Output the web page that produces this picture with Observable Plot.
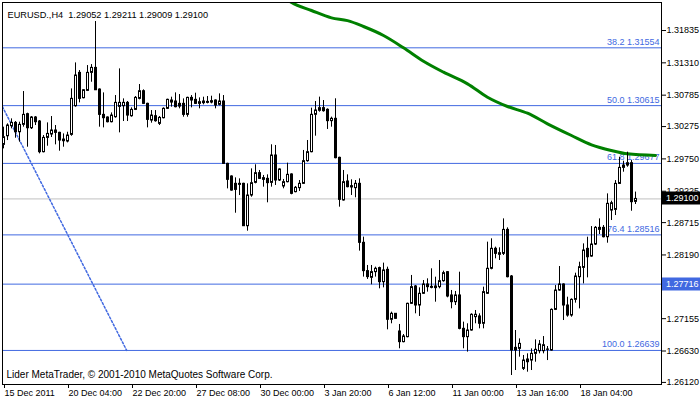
<!DOCTYPE html>
<html><head><meta charset="utf-8">
<script src="https://cdn.jsdelivr.net/npm/d3@7"></script>
<script src="https://cdn.jsdelivr.net/npm/@observablehq/plot@0.6"></script>
<style>
html,body{margin:0;padding:0;background:#fff;}
#chart svg{display:block;}
</style>
</head><body><div id="chart"></div>
<script>
const symbol = "EURUSD.,H4";
const copyright = "Lider MetaTrader, \u00a9 2001-2010 MetaQuotes Software Corp.";

const opens = [1.29978,1.30118,1.30281,1.30335,1.30183,1.30303,1.30476,1.30248,1.30422,1.30357,
1.29859,1.30091,1.30146,1.30211,1.30173,1.30064,1.30032,1.30140,1.30606,1.31147,
1.30736,1.30855,1.31147,1.31228,1.30876,1.30465,1.30422,1.30346,1.30427,1.30595,
1.30606,1.30660,1.30443,1.30546,1.30725,1.30849,1.30644,1.30373,1.30443,1.30319,
1.30411,1.30563,1.30698,1.30682,1.30644,1.30644,1.30465,1.30741,1.30709,1.30644,
1.30682,1.30676,1.30687,1.30698,1.30628,1.30682,1.29669,1.29464,1.29345,1.29328,
1.29345,1.28657,1.29155,1.29361,1.29518,1.29437,1.29426,1.29361,1.29805,1.29399,
1.29302,1.29372,1.29497,1.29210,1.29275,1.29345,1.29713,1.29859,1.30466,1.30531,
1.30574,1.30547,1.30363,1.30401,1.29767,1.29075,1.29383,1.29307,1.29275,1.29345,
1.28387,1.27927,1.27819,1.27911,1.27976,1.27748,1.27948,1.27137,1.27234,1.26947,
1.26774,1.26855,1.27396,1.27678,1.27369,1.27559,1.27710,1.27672,1.27651,1.27667,
1.27764,1.27910,1.27532,1.27423,1.27532,1.26990,1.26855,1.26963,1.27180,1.27191,
1.27072,1.27559,1.27965,1.28290,1.28192,1.28208,1.28597,1.27840,1.26681,1.26665,
1.26340,1.26492,1.26475,1.26584,1.26627,1.26627,1.26649,1.26638,1.27298,1.27612,
1.27710,1.27369,1.27206,1.27461,1.27829,1.27980,1.28289,1.28164,1.28359,1.28597,
1.28630,1.28478,1.28911,1.28922,1.29344,1.29604,1.29642,1.29680,1.29052];
const highs = [1.30265,1.30319,1.30400,1.30357,1.30346,1.30844,1.30492,1.30438,1.30438,1.30373,
1.30129,1.30335,1.30438,1.30292,1.30183,1.30156,1.30183,1.30887,1.31309,1.31185,
1.30876,1.31266,1.31282,1.31981,1.30887,1.30822,1.30432,1.30497,1.30779,1.31212,
1.30725,1.30682,1.30579,1.30763,1.30958,1.30871,1.30655,1.30535,1.30535,1.30438,
1.30579,1.30720,1.30752,1.30822,1.30795,1.30725,1.30752,1.30779,1.30817,1.30741,
1.30752,1.30763,1.30768,1.30709,1.30806,1.30779,1.29680,1.29475,1.29442,1.29426,
1.29355,1.29345,1.29588,1.29654,1.29562,1.29481,1.29491,1.29979,1.29968,1.29589,
1.29416,1.29681,1.29508,1.29302,1.29399,1.29887,1.30049,1.30574,1.30682,1.30753,
1.30698,1.30563,1.30428,1.30726,1.29778,1.29562,1.29491,1.29410,1.29399,1.29426,
1.28479,1.28019,1.28019,1.27992,1.27992,1.28057,1.27992,1.27261,1.27234,1.27061,
1.26898,1.27407,1.27857,1.27694,1.27656,1.27775,1.27802,1.27965,1.27829,1.28100,
1.27927,1.27921,1.27613,1.27597,1.27910,1.27099,1.27072,1.27234,1.27288,1.27234,
1.27667,1.28398,1.28452,1.28317,1.28306,1.28776,1.28630,1.27856,1.26963,1.26827,
1.26557,1.26584,1.26665,1.26811,1.26800,1.26865,1.26703,1.27314,1.27693,1.28002,
1.27720,1.27504,1.27477,1.27894,1.28072,1.28370,1.28478,1.28651,1.28651,1.28776,
1.28668,1.29182,1.29063,1.29398,1.29777,1.29712,1.29859,1.29723,1.29211];
const lows = [1.29913,1.30048,1.30238,1.30086,1.30021,1.30265,1.29940,1.30227,1.30292,1.29832,
1.29848,1.29956,1.30097,1.29978,1.29875,1.29940,1.30010,1.30118,1.30589,1.30660,
1.30725,1.30844,1.30995,1.30860,1.30265,1.30254,1.30335,1.30335,1.30411,1.30173,
1.30357,1.30357,1.30427,1.30535,1.30709,1.30633,1.30254,1.30330,1.30346,1.30292,
1.30400,1.30552,1.30590,1.30579,1.30563,1.30427,1.30427,1.30579,1.30633,1.30563,
1.30628,1.30644,1.30644,1.30563,1.30611,1.29659,1.29263,1.29226,1.28868,1.29155,
1.28652,1.28576,1.29128,1.29345,1.29416,1.29291,1.29037,1.29291,1.29318,1.29383,
1.29264,1.29361,1.29167,1.29199,1.29221,1.29334,1.29697,1.29849,1.30119,1.30509,
1.30509,1.30228,1.30265,1.29751,1.28966,1.29064,1.29280,1.29156,1.29118,1.28252,
1.27830,1.27792,1.27705,1.27830,1.27640,1.27656,1.26974,1.27072,1.27147,1.26666,
1.26763,1.26844,1.27386,1.27234,1.27191,1.27548,1.27586,1.27640,1.27423,1.27640,
1.27748,1.27494,1.27315,1.27369,1.26974,1.26666,1.26612,1.26952,1.27072,1.26990,
1.26990,1.27548,1.27948,1.28127,1.28100,1.28181,1.27818,1.26232,1.26313,1.26530,
1.26313,1.26286,1.26313,1.26448,1.26584,1.26584,1.26475,1.26627,1.27287,1.27601,
1.27125,1.27179,1.27179,1.27407,1.27314,1.27720,1.27818,1.28153,1.28343,1.28522,
1.28467,1.28381,1.28749,1.28830,1.29334,1.29534,1.29615,1.28900,1.29009];
const closes = [1.30102,1.30292,1.30335,1.30183,1.30303,1.30465,1.30248,1.30422,1.30346,1.29859,
1.30091,1.30156,1.30211,1.30173,1.30048,1.30037,1.30129,1.30725,1.31104,1.30725,
1.30865,1.31147,1.31228,1.30865,1.30465,1.30411,1.30346,1.30454,1.30660,1.30660,
1.30660,1.30454,1.30546,1.30741,1.30849,1.30644,1.30384,1.30454,1.30362,1.30416,
1.30563,1.30709,1.30665,1.30590,1.30600,1.30465,1.30741,1.30698,1.30644,1.30671,
1.30655,1.30660,1.30665,1.30617,1.30682,1.29669,1.29410,1.29236,1.29247,1.29345,
1.28657,1.29155,1.29355,1.29518,1.29426,1.29410,1.29356,1.29805,1.29399,1.29578,
1.29372,1.29491,1.29183,1.29280,1.29345,1.29713,1.29859,1.30466,1.30536,1.30574,
1.30525,1.30363,1.30401,1.29762,1.29085,1.29372,1.29291,1.29286,1.29345,1.28387,
1.27927,1.27830,1.27911,1.27965,1.27748,1.27938,1.27137,1.27234,1.27153,1.26774,
1.26866,1.27396,1.27667,1.27369,1.27559,1.27710,1.27667,1.27656,1.27678,1.27764,
1.27894,1.27515,1.27423,1.27532,1.26990,1.26855,1.26963,1.27218,1.27218,1.27072,
1.27586,1.27965,1.28290,1.28208,1.28219,1.28597,1.27829,1.26638,1.26638,1.26746,
1.26475,1.26448,1.26584,1.26649,1.26735,1.26724,1.26654,1.27298,1.27612,1.27710,
1.27369,1.27206,1.27461,1.27840,1.27991,1.28262,1.28153,1.28359,1.28630,1.28630,
1.28478,1.29020,1.29030,1.29344,1.29604,1.29642,1.29680,1.29047,1.29100];

// moving average (green), read at sample bars
const maBars   = [71, 72, 77, 82, 86, 90, 95, 100, 105, 110, 116, 121, 126, 131, 136, 142, 147, 152, 156, 163];
const maValues = [1.32330,1.32290,1.32160,1.32040,1.31995,1.31900,1.31754,1.31554,1.31336,1.31158,
                  1.30969,1.30752,1.30601,1.30492,1.30320,1.30130,1.29979,1.29886,1.29832,1.29805];

// Fibonacci levels
const fibLevels = ["38.2", "50.0", "61.8", "76.4", "100.0"];
const fibPrices = [1.31554, 1.30615, 1.29677, 1.28516, 1.26639];
const fibTrendBars = [-31.6, 30.8];
const fibTrendPrices = [1.34591, 1.26639];

const hLinePrice = 1.27716;

// axes
const xTickBars = [0, 16, 32, 48, 64, 80, 96, 112, 128, 144];
const xTickLabels = ["15 Dec 2011", "20 Dec 04:00", "22 Dec 20:00", "27 Dec 08:00", "30 Dec 00:00",
                     "3 Jan 20:00", "6 Jan 12:00", "11 Jan 00:00", "13 Jan 16:00", "18 Jan 04:00"];
const yTicks = [1.31835, 1.31310, 1.30785, 1.30275, 1.29750, 1.29225, 1.28715, 1.28190, 1.27665, 1.27155, 1.26630, 1.26120];

const blue = "#4169E1";
const font = "'Liberation Sans', Arial, sans-serif";
const candles = opens.map((o, i) => ({i, open: o, high: highs[i], low: lows[i], close: closes[i]}));
const last = candles[candles.length - 1];
const ma = maBars.map((b, k) => ({bar: b, value: maValues[k]}));
const fibs = fibLevels.map((l, k) => ({level: l, price: fibPrices[k]}));
const trend = fibTrendBars.map((b, k) => ({bar: b, price: fibTrendPrices[k]}));
const xLabel = new Map(xTickBars.map((b, k) => [b, xTickLabels[k]]));
const f5 = d3.format(".5f");
const title = `${symbol}\u00a0\u00a0${f5(last.open)} ${f5(last.high)} ${f5(last.low)} ${f5(last.close)}`;

const bodyLo = d => Math.min(d.open, d.close);
const bodyHi = d => Math.max(d.open, d.close);

const chart = Plot.plot({
  width: 700, height: 402,
  marginLeft: 2, marginRight: 39, marginTop: 2, marginBottom: 18,
  x: {type: "linear", domain: [-0.25, 164.5], axis: null},
  y: {domain: [1.26086, 1.32290], axis: null},
  style: {fontFamily: font, fontSize: "9px", background: "#fff", color: "#000", overflow: "visible"},
  marks: [
    Plot.ruleY([last.close], {stroke: "#c0c0c0"}),
    Plot.ruleY(fibPrices, {stroke: blue}),
    Plot.ruleY([hLinePrice], {stroke: blue}),
    Plot.text(fibs, {y: "price", text: d => `${d.level} ${f5(d.price)}`, frameAnchor: "right", textAnchor: "end", dx: -2, dy: -6, fill: blue}),
    Plot.line(trend, {x: "bar", y: "price", stroke: blue, strokeDasharray: "2,2", clip: true}),
    Plot.line(ma, {x: "bar", y: "value", stroke: "#008000", strokeWidth: 3, curve: "monotone-x", clip: true}),
    Plot.ruleX(candles, {x: "i", y1: "low", y2: "high", stroke: "#000"}),
    Plot.rect(candles.filter(d => d.close >= d.open), {x1: d => d.i - 0.25, x2: d => d.i + 0.25, y1: bodyLo, y2: bodyHi, dx: 0.5, fill: "#fff", stroke: "#000"}),
    Plot.rect(candles.filter(d => d.close < d.open), {x1: d => d.i - 0.25, x2: d => d.i + 0.25, y1: bodyLo, y2: bodyHi, dx: 0.5, fill: "#000", stroke: "#000"}),
    Plot.axisX({ticks: xTickBars, tickFormat: d => xLabel.get(d), tickSize: 4, tickPadding: 1, textAnchor: "start", dx: 1, label: null}),
    Plot.axisY({anchor: "right", ticks: yTicks, tickFormat: f5, tickSize: 4, tickPadding: 1, label: null}),
    Plot.frame({stroke: "#000"}),
    Plot.text([title], {frameAnchor: "top-left", textAnchor: "start", dx: 5, dy: 9, fontSize: 9.2, fill: "#000"}),
    Plot.text([copyright], {frameAnchor: "bottom-left", textAnchor: "start", dx: 4, dy: -7, fontSize: 10, fill: "#000"})
  ]
});

// price tags on the right axis, positioned through the chart's y scale
const ys = chart.scale("y");
const tags = [{price: last.close, bg: "#000"}, {price: hLinePrice, bg: blue}];
const g = d3.select(chart).append("g")
  .attr("font-family", font).attr("font-size", 9).attr("text-anchor", "start");
for (const t of tags) {
  const yy = ys.apply(t.price);
  g.append("rect").attr("x", 662).attr("y", Math.round(yy) - 6.5).attr("width", 38).attr("height", 13).attr("fill", t.bg);
  g.append("text").attr("x", 666).attr("y", yy).attr("dy", "0.32em").attr("text-anchor", "start").attr("fill", "#fff").text(f5(t.price));
}
document.getElementById("chart").appendChild(chart);
</script>
</body></html>
